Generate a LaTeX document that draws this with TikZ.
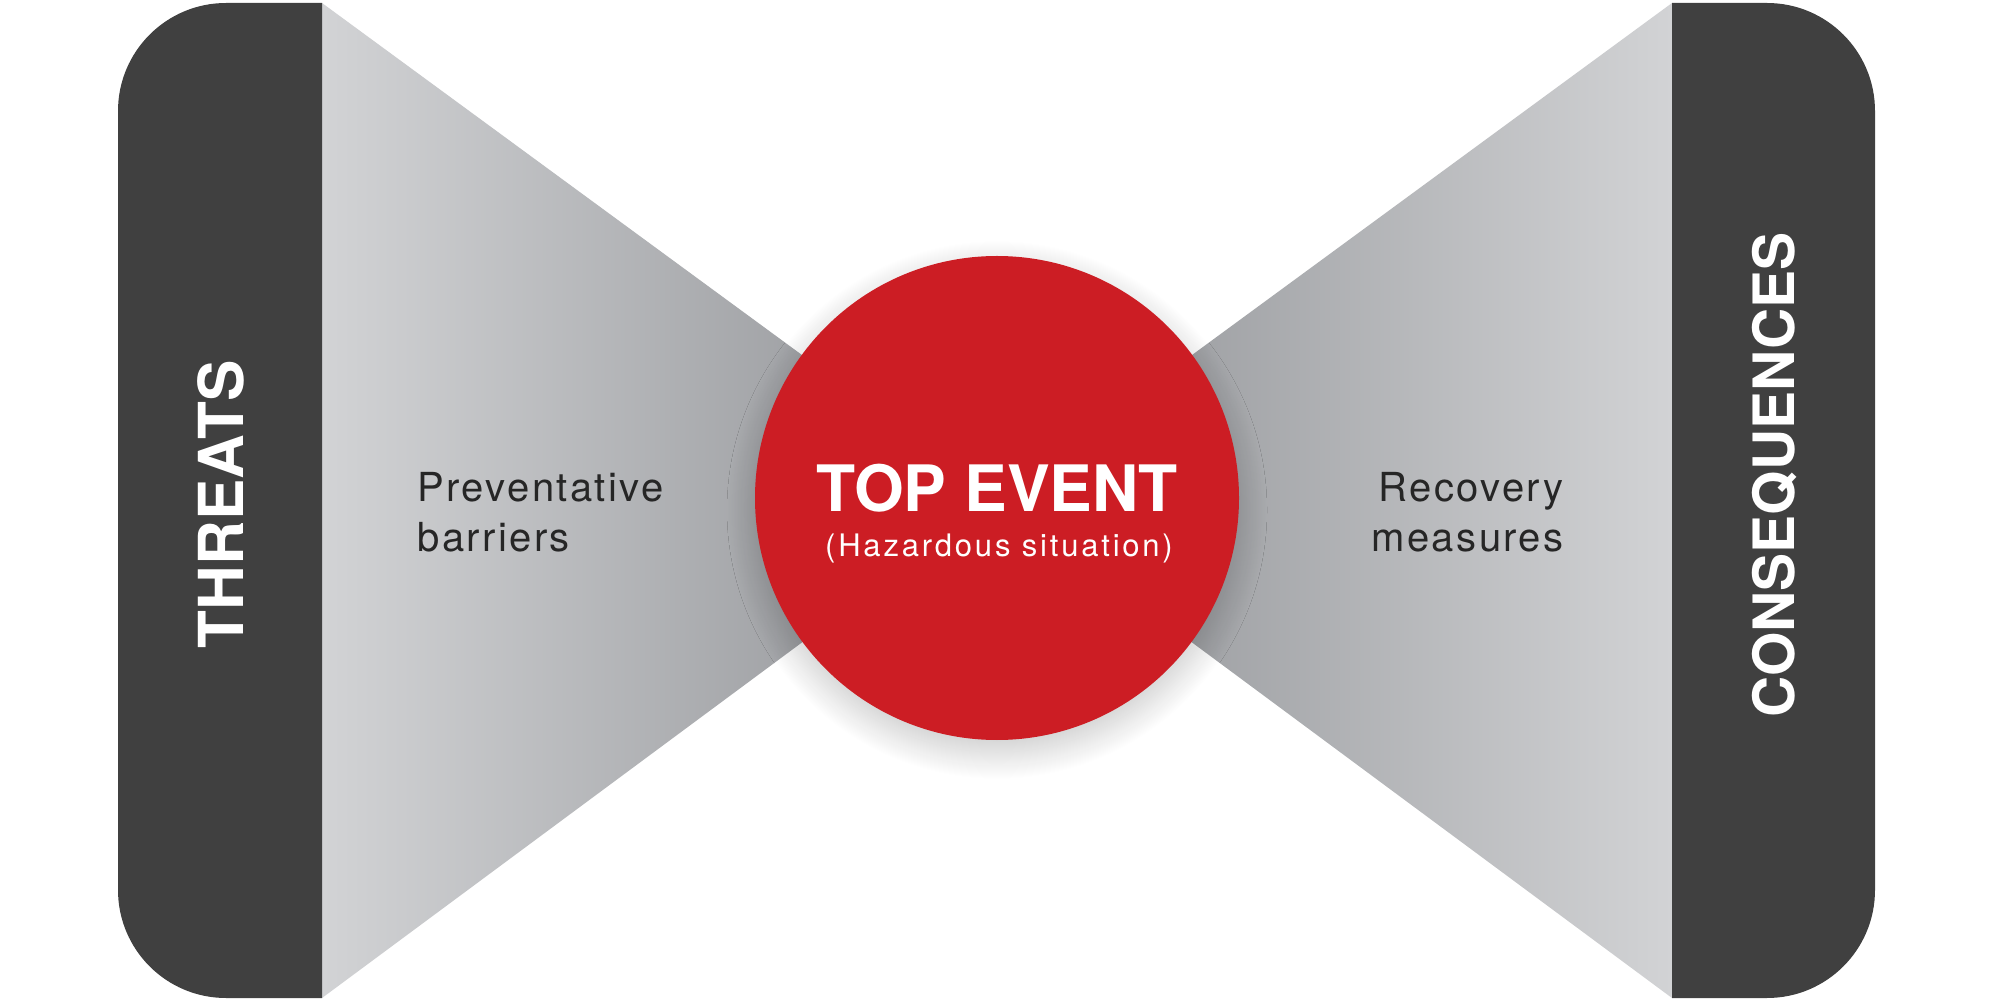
\documentclass[tikz,border=0pt]{standalone}
\usepackage{fontspec}
\setmainfont{TeX Gyre Heros}
\newfontfamily\spaced[LetterSpace=6]{TeX Gyre Heros}
\newfontfamily\spacednote[LetterSpace=9]{TeX Gyre Heros}
\usepackage{tikz}
\usetikzlibrary{positioning,shadows.blur}

\definecolor{bardark}{RGB}{64,64,64}
\definecolor{topred}{RGB}{204,29,36}
\definecolor{fanlight}{RGB}{210,211,213}
\definecolor{fandark}{RGB}{141,143,147}
\definecolor{fantext}{RGB}{38,38,38}

\begin{document}
\begin{tikzpicture}[x=0.5pt,y=-0.5pt,
  barlabel/.style={text=white,rotate=90,inner sep=0pt},
  fanlabel/.style={text=fantext,font=\spaced\fontsize{20}{25}\selectfont,inner sep=0pt},
  eventdisc/.style={circle,fill=topred,minimum size=242pt,inner sep=0pt,
    blur shadow={shadow xshift=0pt,shadow yshift=-6pt,shadow blur radius=14pt,
      shadow blur steps=30,shadow opacity=22}}]
  \useasboundingbox (0,0) rectangle (2004,1005);
  \coordinate (knot) at (997,498);

  % fans
  \shade[left color=fanlight,right color=fandark] (322,3) -- (knot) -- (322,998) -- cycle;
  \shade[left color=fandark,right color=fanlight] (1672,3) -- (knot) -- (1672,998) -- cycle;

  % end bars
  \begin{scope}
    \clip (118,3) rectangle (322,998);
    \fill[bardark,rounded corners=54pt] (118,3) rectangle (430,998);
  \end{scope}
  \begin{scope}
    \clip (1672,3) rectangle (1875,998);
    \fill[bardark,rounded corners=54pt] (1564,3) rectangle (1875,998);
  \end{scope}

  \node[barlabel,font=\bfseries\fontsize{31}{36}\selectfont] (threats) at (221,504) {THREATS};
  \node[barlabel,font=\bfseries\fontsize{28.5}{34}\selectfont] (conseq) at (1775,475) {CONSEQUENCES};

  \node[fanlabel,align=left,anchor=north west] (prevent) at (417,472) {Preventative\\barriers};
  \node[fanlabel,align=right,anchor=north east] (recover) at (1564,472) {Recovery\\measures};

  % top event
  \node[eventdisc] (top) at (knot) {};
  \node[text=white,anchor=base,inner sep=0pt,font=\bfseries\fontsize{32}{38}\selectfont] (topname) at (997,512) {TOP EVENT};
  \node[text=white,anchor=base,inner sep=0pt,font=\spacednote\fontsize{15.5}{18}\selectfont] (topnote) at (999,557) {(Hazardous situation)};
\end{tikzpicture}
\end{document}
